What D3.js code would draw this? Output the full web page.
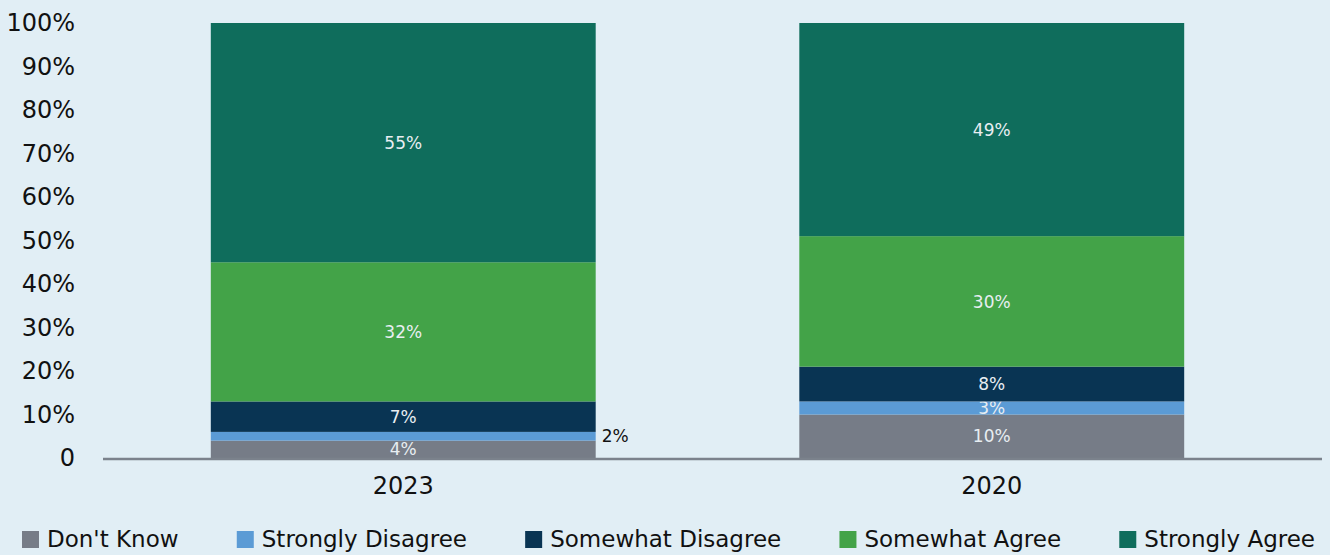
<!DOCTYPE html>
<html>
<head>
<meta charset="utf-8">
<script src="https://cdn.jsdelivr.net/npm/d3@7"></script>
<style>
  html, body { margin: 0; padding: 0; background: #e1eef5; }
  svg { display: block; font-family: "DejaVu Sans", sans-serif; }
</style>
</head>
<body>
<svg id="chart" width="1330" height="555"></svg>
<script>
// Survey responses by year (percent of respondents)
const years = ["2023", "2020"];
const responses = ["Don't Know", "Strongly Disagree", "Somewhat Disagree", "Somewhat Agree", "Strongly Agree"];
const dontKnow         = [4, 10];
const stronglyDisagree = [2, 3];
const somewhatDisagree = [7, 8];
const somewhatAgree    = [32, 30];
const stronglyAgree    = [55, 49];
const yTicks = [0, 10, 20, 30, 40, 50, 60, 70, 80, 90, 100];
const yTickLabels = ["0", "10%", "20%", "30%", "40%", "50%", "60%", "70%", "80%", "90%", "100%"];

const seriesValues = [dontKnow, stronglyDisagree, somewhatDisagree, somewhatAgree, stronglyAgree];
const colors = ["#767c87", "#5b9bd5", "#093453", "#43a348", "#0f6d5c"];

const rows = years.map((yr, i) => {
  const r = { year: yr };
  responses.forEach((k, j) => { r[k] = seriesValues[j][i]; });
  return r;
});

const svg = d3.select("#chart");

const x = d3.scaleBand()
  .domain(years)
  .range([109, 1286])
  .paddingInner(0.346)
  .paddingOuter(0.173);

const y = d3.scaleLinear().domain([0, 100]).range([458, 23]);

const color = d3.scaleOrdinal().domain(responses).range(colors);

const stack = d3.stack().keys(responses)(rows);

// Stacked bars
const layers = svg.append("g").selectAll("g")
  .data(stack)
  .join("g")
  .attr("fill", d => color(d.key));

layers.selectAll("rect")
  .data(d => d.map(p => ({ key: d.key, p })))
  .join("rect")
  .attr("x", d => x(d.p.data.year))
  .attr("width", x.bandwidth())
  .attr("y", d => y(d.p[1]))
  .attr("height", d => y(d.p[0]) - y(d.p[1]));

// Segment value labels; segments too thin for text get the label beside the bar
layers.selectAll("text")
  .data(d => d.map(p => ({ key: d.key, p })))
  .join("text")
  .each(function (d) {
    const v = d.p[1] - d.p[0];
    const cy = y((d.p[0] + d.p[1]) / 2);
    const t = d3.select(this)
      .attr("y", cy)
      .attr("dy", "0.36em")
      .attr("font-size", 17)
      .text(v + "%");
    const outside = v <= 2;
    if (outside) {
      t.attr("x", x(d.p.data.year) + x.bandwidth() + 6)
       .attr("text-anchor", "start")
       .attr("fill", "#111");
    } else {
      t.attr("x", x(d.p.data.year) + x.bandwidth() / 2)
       .attr("text-anchor", "middle")
       .attr("fill", "#e8eef2");
    }
  });

// Y axis labels (no axis line)
const yAxis = svg.append("g")
  .attr("transform", "translate(75,0)")
  .call(d3.axisLeft(y).tickValues(yTicks).tickFormat((d, i) => yTickLabels[i]).tickSize(0).tickPadding(0));
yAxis.select(".domain").remove();
yAxis.selectAll("text")
  .attr("font-size", 24)
  .attr("font-family", "DejaVu Sans, sans-serif")
  .attr("fill", "#111");

// Baseline
svg.append("line")
  .attr("x1", 103).attr("x2", 1322)
  .attr("y1", 459).attr("y2", 459)
  .attr("stroke", "#7b828c")
  .attr("stroke-width", 2.5);

// Category labels
const xAxis = svg.append("g")
  .attr("transform", "translate(0,485)")
  .call(d3.axisBottom(x).tickSize(0).tickPadding(0));
xAxis.select(".domain").remove();
xAxis.selectAll("text")
  .attr("dy", "0.36em")
  .attr("font-size", 24)
  .attr("font-family", "DejaVu Sans, sans-serif")
  .attr("fill", "#111");

// Legend, spread across the bottom
const legend = svg.append("g");
const items = legend.selectAll("g")
  .data(responses)
  .join("g");
items.append("rect")
  .attr("width", 17).attr("height", 17)
  .attr("y", 531)
  .attr("fill", d => color(d));
items.append("text")
  .attr("x", 25)
  .attr("y", 539)
  .attr("dy", "0.36em")
  .attr("font-size", 23)
  .attr("fill", "#111")
  .text(d => d);

const widths = [];
items.each(function () { widths.push(this.getBBox().width); });
const left = 22, right = 1315;
const gap = (right - left - d3.sum(widths)) / (widths.length - 1);
let cx = left;
items.attr("transform", (d, i) => {
  const t = `translate(${cx},0)`;
  cx += widths[i] + gap;
  return t;
});
</script>
</body>
</html>
